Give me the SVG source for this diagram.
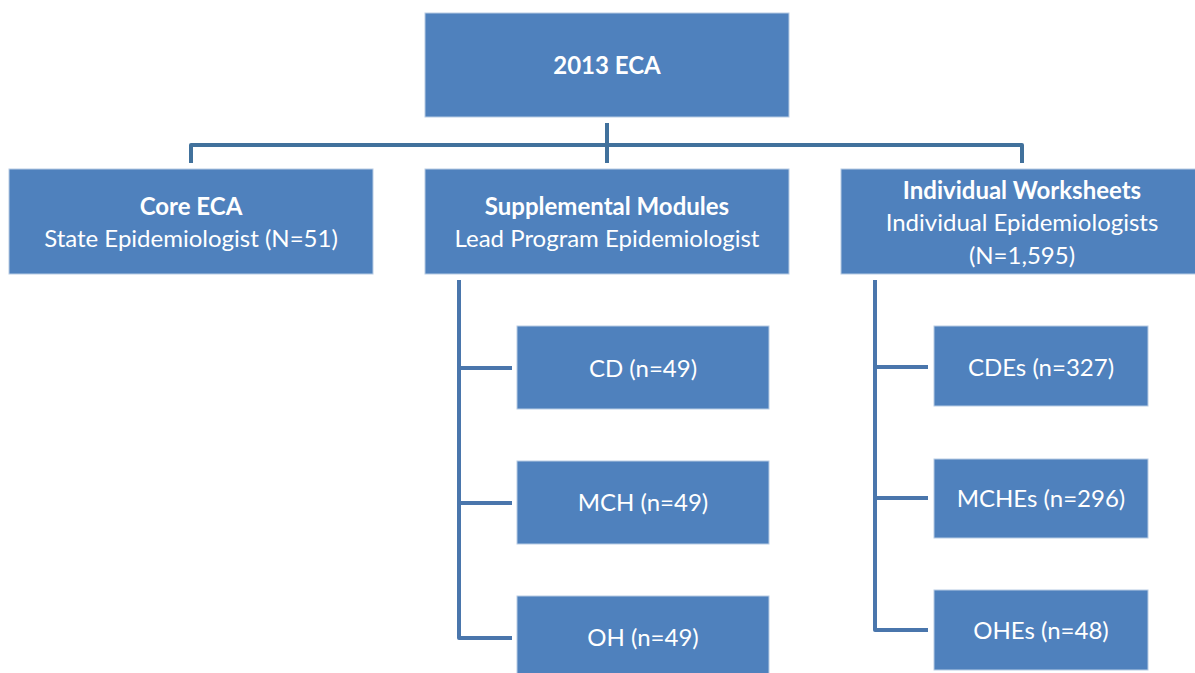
<svg xmlns="http://www.w3.org/2000/svg" width="1195" height="673" viewBox="0 0 1195 673">
<style>
.box{fill:#4F81BD;stroke:#B8CCE4;stroke-width:1}
.t{font-family:Lato,"Open Sans","Liberation Sans",sans-serif;font-size:24px;fill:#FFFFFF;text-anchor:middle}
.b{font-weight:bold}
.c{fill:none;stroke:#41719C;stroke-width:4;stroke-linejoin:round}
.c2{fill:none;stroke:#4A76AC;stroke-width:4;stroke-linejoin:round}
</style>
<rect width="1195" height="673" fill="#FFFFFF"/>
<g id="connectors">
<path class="c" d="M191,163 V145 H1022 V163"/>
<path class="c" d="M607,123 V163"/>
<path class="c2" d="M459,280 V638 H512 M459,368 H512 M459,503 H512"/>
<path class="c2" d="M875,280 V630 H928 M875,367 H928 M875,498 H928"/>
</g>
<g id="n-top"><rect class="box" x="425" y="13" width="364" height="104"/><text class="t b" x="607" y="74">2013 ECA</text></g>
<g id="n-core"><rect class="box" x="9" y="169" width="364" height="105"/><text class="t b" x="191" y="215">Core ECA</text><text class="t" x="191" y="247">State Epidemiologist (N=51)</text></g>
<g id="n-supp"><rect class="box" x="425" y="169" width="364" height="105"/><text class="t b" x="607" y="215">Supplemental Modules</text><text class="t" x="607" y="247">Lead Program Epidemiologist</text></g>
<g id="n-ind"><rect class="box" x="841" y="169" width="360" height="105"/><text class="t b" x="1022" y="199">Individual Worksheets</text><text class="t" x="1022" y="231">Individual Epidemiologists</text><text class="t" x="1022" y="264">(N=1,595)</text></g>
<g id="n-cd"><rect class="box" x="517" y="326" width="252" height="83"/><text class="t" x="643" y="377">CD (n=49)</text></g>
<g id="n-mch"><rect class="box" x="517" y="461" width="252" height="83"/><text class="t" x="643" y="511">MCH (n=49)</text></g>
<g id="n-oh"><rect class="box" x="517" y="596" width="252" height="83"/><text class="t" x="643" y="646">OH (n=49)</text></g>
<g id="n-cdes"><rect class="box" x="934" y="326" width="214" height="80"/><text class="t" x="1041" y="376">CDEs (n=327)</text></g>
<g id="n-mches"><rect class="box" x="934" y="459" width="214" height="79"/><text class="t" x="1041" y="507">MCHEs (n=296)</text></g>
<g id="n-ohes"><rect class="box" x="934" y="590" width="214" height="80"/><text class="t" x="1041" y="639">OHEs (n=48)</text></g>
</svg>
